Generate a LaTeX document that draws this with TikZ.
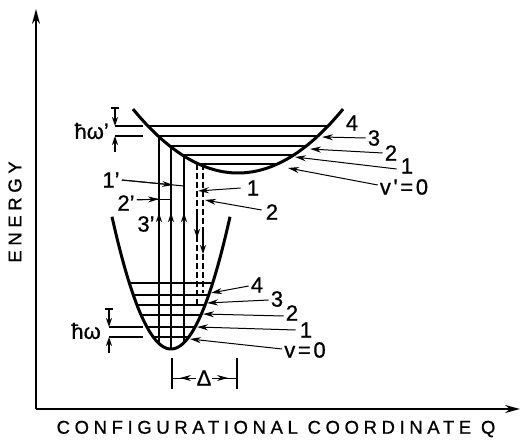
\documentclass[tikz,border=0pt]{standalone}
\usepackage{fontspec}
\setmainfont{Liberation Sans}[FakeBold=0.8]
\newfontfamily\spacedfont[LetterSpace=25,FakeBold=0.8]{Liberation Sans}
\newfontfamily\lblfont[LetterSpace=12,FakeBold=0.8]{Liberation Sans}
\usetikzlibrary{arrows.meta}
\begin{document}
\begin{tikzpicture}[x=1pt,y=-1pt,
  axis/.style={line width=1.5pt,-{Stealth[length=15pt,width=8pt]}},
  well/.style={line width=3pt,line join=round},
  lev/.style={line width=1.4pt},
  tr/.style={line width=1.4pt},
  trd/.style={line width=1.4pt,dash pattern=on 6pt off 3pt},
  tip/.style={line width=1.4pt,-{Stealth[length=9pt,width=6pt]}},
  ptr/.style={line width=1pt,-{Stealth[length=11pt,width=6pt]}},
  lab/.style={font=\fontsize{22}{22}\selectfont, inner sep=0pt},
  ax/.style={font=\fontsize{18.5}{18.5}\spacedfont, inner sep=0pt},
]
\useasboundingbox (0,0) rectangle (524,443);
\def\uxc{238}\def\uym{173}\def\uk{0.0058}
\def\lxc{171}\def\lym{349}\def\lk{0.038}
% axes
\coordinate (O) at (36,409);
\coordinate (Ytop) at (36,9);
\coordinate (Xend) at (520,409);
\draw[axis] (O) -- (Ytop);
\draw[axis] (O) -- (Xend);
\node[ax,rotate=90] (energy) at (15,212) {ENERGY};
\node[ax] (qlab) at (276,429) {CONFIGURATIONAL COORDINATE Q};
% wells
\draw[well] plot[domain=133:343,samples=80,smooth] (\x,{\uym-\uk*(\x-\uxc)^2});
\draw[well] plot[domain=112:230,samples=80,smooth] (\x,{\lym-\lk*(\x-\lxc)^2});
% levels
\foreach \y in {126,136,146,155,164}
  \draw[lev] ({\uxc-sqrt((\uym-\y)/\uk)},\y) -- ({\uxc+sqrt((\uym-\y)/\uk)},\y);
\foreach \y in {283,295,305,315,327,337}
  \draw[lev] ({\lxc-sqrt((\lym-\y)/\lk)},\y) -- ({\lxc+sqrt((\lym-\y)/\lk)},\y);
% absorption
\foreach \x in {159,171,184}{
  \draw[tr] (\x,{\lym-\lk*(\x-\lxc)^2}) -- (\x,{\uym-\uk*(\x-\uxc)^2});
  \draw[tip] (\x,238) -- (\x,213);
}
% emission (dashed)
\draw[trd] (197,164) -- (197,307);
\draw[trd] (203,164) -- (203,293);
\draw[tip] (197,215) -- (197,238);
\draw[tip] (203,230) -- (203,254);
% hbar omega' marker
\draw[lev] (115,126) -- (143,126);
\draw[lev] (115,136) -- (143,136);
\draw[tip] (115,108) -- (115,126);
\draw[line width=1.2pt] (111,108) -- (119,108);
\draw[tip] (115,152) -- (115,136);
\node[lab,anchor=east] (hwp) at (109,131) {ħω'};
% hbar omega marker
\draw[lev] (109,327) -- (143,327);
\draw[lev] (109,337) -- (143,337);
\draw[tip] (109,309) -- (109,327);
\draw[line width=1.2pt] (105,309) -- (113,309);
\draw[tip] (109,353) -- (109,337);
\node[lab,anchor=east] (hw) at (101,331) {ħω};
% upper right labels
\node[lab] (u4) at (352,123) {4};
\node[lab] (u3) at (374,138) {3};
\node[lab] (u2) at (391,153) {2};
\node[lab] (u1) at (407,166) {1};
\node[lab,font=\fontsize{22}{22}\lblfont] (u0) at (404,187) {v'=0};
\draw[ptr] (u3.west) ++(-2,0) -- (322,137);
\draw[ptr] (u2.west) ++(-2,0) -- (310,149);
\draw[ptr] (u1.west) ++(-4,3) -- (295,157);
\draw[ptr] (u0.west) ++(-2,-2) -- (288,168);
% emission labels
\node[lab] (e1) at (253,188) {1};
\node[lab] (e2) at (272,212) {2};
\draw[ptr] (e1.west) ++(-6,0) -- (198,191);
\draw[ptr] (e2.west) ++(-4,-2) -- (205,200);
% absorption labels
\node[lab] (a1) at (111,180) {1'};
\node[lab] (a2) at (126,203) {2'};
\node[lab] (a3) at (146,224) {3'};
\draw[line width=1pt] (a1.east) ++(2,0) -- (184,186);
\draw[ptr] (a1.east) ++(2,0) -- (173,185);
\draw[line width=1pt] (a2.east) ++(2,-3) -- (171,200);
\draw[ptr] (a2.east) ++(2,-3) -- (159,199);
% lower right labels
\node[lab] (l4) at (257,285) {4};
\node[lab] (l3) at (277,299) {3};
\node[lab] (l2) at (292,313) {2};
\node[lab] (l1) at (306,330) {1};
\node[lab,font=\fontsize{22}{22}\lblfont] (l0) at (305,350) {v=0};
\draw[ptr] (l4.west) ++(-2,1) -- (211,293);
\draw[ptr] (l3.west) ++(-2,1) -- (207,303);
\draw[ptr] (l2.west) ++(-2,3) -- (203,314);
\draw[ptr] (l1.west) ++(-4,0) -- (197,327);
\draw[ptr] (l0.west) ++(-2,-1) -- (190,339);
% Delta
\draw[line width=1.2pt] (172,358) -- (172,389);
\draw[line width=1.2pt] (237,358) -- (237,389);
\node[lab] (delta) at (204,378) {Δ};
\draw[line width=1pt] (172,378) -- (delta.west);
\draw[ptr] (delta.west) ++(-2,0) -- (180,378);
\draw[line width=1pt] (237,378) -- (delta.east);
\draw[ptr] (delta.east) ++(2,0) -- (228,378);
\end{tikzpicture}
\end{document}
